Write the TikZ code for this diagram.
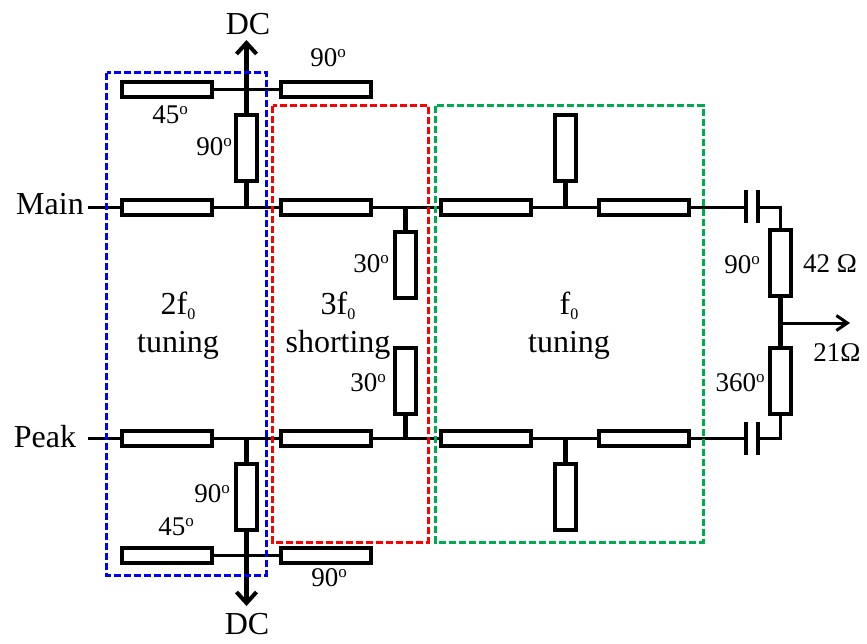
\documentclass[tikz,border=0pt]{standalone}
\usepackage{fontspec}
\setmainfont{Liberation Serif}
\usetikzlibrary{arrows.meta}
\definecolor{dcgreen}{RGB}{0,170,80}
\newcommand{\dg}{\raisebox{0.36em}{\fontsize{17}{17}\selectfont o}}
\newcommand{\zr}{\raisebox{-0.16em}{\fontsize{16}{16}\selectfont 0}}
\tikzset{
 hbox/.style={draw,line width=4pt,fill=white,minimum width=90pt,minimum height=15pt,inner sep=0pt,outer sep=0pt},
 vbox/.style={draw,line width=4pt,fill=white,minimum width=21pt,minimum height=66pt,inner sep=0pt,outer sep=0pt},
 wire/.style={line width=3pt},
 stub/.style={line width=4.2pt},
 big/.style={inner sep=0pt,font=\fontsize{32}{38}\selectfont,align=center},
 lab/.style={inner sep=0pt,font=\fontsize{27}{30}\selectfont},
 zone/.style={dashed,dash pattern=on 7pt off 3pt,line width=3pt},
 plate/.style={line width=4.2pt}
}
\begin{document}
\begin{tikzpicture}[x=1pt,y=-1pt]
\useasboundingbox (0,0) rectangle (867,643);
\coordinate (mainL) at (88,207);
\coordinate (peakL) at (88,438);
\coordinate (jM1) at (246.5,207);
\coordinate (jM2) at (405.5,207);
\coordinate (jM3) at (565.5,207);
\coordinate (jP1) at (246.5,438);
\coordinate (jP2) at (405.5,438);
\coordinate (jP3) at (565.5,438);
\coordinate (jT) at (246.5,89);
\coordinate (jB) at (246.5,555);
\coordinate (dcT) at (246.5,40);
\coordinate (dcB) at (246.5,606);
\coordinate (cTa) at (746,207);
\coordinate (cTb) at (758,207);
\coordinate (cBa) at (746,438);
\coordinate (cBb) at (758,438);
\coordinate (cornT) at (780.5,207);
\coordinate (cornB) at (780.5,438);
\coordinate (out) at (780.5,323);
\coordinate (outE) at (850,323);
\draw[wire] (mainL) -- (cTa);
\draw[wire] (peakL) -- (cBa);
\draw[wire] (167,89) -- (326,89);
\draw[wire] (167,555) -- (326,555);
\draw[wire,line join=miter] (cTb) -- (cornT) -- (780.5,260);
\draw[wire,line join=miter] (cBb) -- (cornB) -- (780.5,380);
\draw[stub,-{Straight Barb[length=11pt,width=20pt,line width=4pt]}] (jT) -- (dcT);
\draw[stub,-{Straight Barb[length=11pt,width=20pt,line width=4pt]}] (jB) -- (dcB);
\draw[stub] (jT) -- (jM1);
\draw[stub] (jB) -- (jP1);
\draw[stub] (jM2) -- (405.5,265);
\draw[stub] (jP2) -- (405.5,381);
\draw[stub] (jM3) -- (565.5,147);
\draw[stub] (jP3) -- (565.5,497);
\draw[stub] (780.5,263) -- (780.5,381);
\draw[wire,-{Straight Barb[length=11pt,width=15pt,line width=3pt]}] (out) -- (outE);
\draw[plate] (746,190) -- (746,223);
\draw[plate] (758,190) -- (758,223);
\draw[plate] (746,422) -- (746,455);
\draw[plate] (758,422) -- (758,455);
\foreach \n/\x/\y in {a/167/89,b/326/89,c/167/207,d/326/207,e/486/207,f/644/207,g/167/438,h/326/438,i/486/438,j/644/438,k/167/555,l/326/555}
  \node[hbox] (h\n) at (\x,\y) {};
\foreach \n/\x/\y in {a/246.5/147.5,b/405.5/265,c/565.5/147.5,d/780.5/263,e/405.5/381,f/780.5/381,g/246.5/497,h/565.5/497}
  \node[vbox] (v\n) at (\x,\y) {};
\draw[zone,blue] (106.5,72.5) rectangle (266,575);
\draw[zone,red] (272.5,105.5) rectangle (428,542);
\draw[zone,dcgreen] (435.5,105.5) rectangle (703,542);
\node[big] (tDCt) at (248,24) {DC};
\node[big] (tDCb) at (247,624) {DC};
\node[big] (tMain) at (50,204) {Main};
\node[big] (tPeak) at (45,437) {Peak};
\node[big] (t2f) at (178,326) {2f\zr\\tuning};
\node[big] (t3f) at (338,326) {3f\zr\\shorting};
\node[big] (tf0) at (569,326) {f\zr\\tuning};
\node[lab] (l1) at (328,58) {90\dg};
\node[lab] (l2) at (170,115) {45\dg};
\node[lab] (l3) at (214,147) {90\dg};
\node[lab] (l4) at (371,264) {30\dg};
\node[lab] (l5) at (368,383) {30\dg};
\node[lab] (l6) at (212,494) {90\dg};
\node[lab] (l7) at (176,527) {45\dg};
\node[lab] (l8) at (329,578) {90\dg};
\node[lab] (l9) at (742,265) {90\dg};
\node[lab] (l10) at (740,383) {360\dg};
\node[lab] (l11) at (830,264) {42 Ω};
\node[lab] (l12) at (837,353) {21Ω};
\end{tikzpicture}
\end{document}
